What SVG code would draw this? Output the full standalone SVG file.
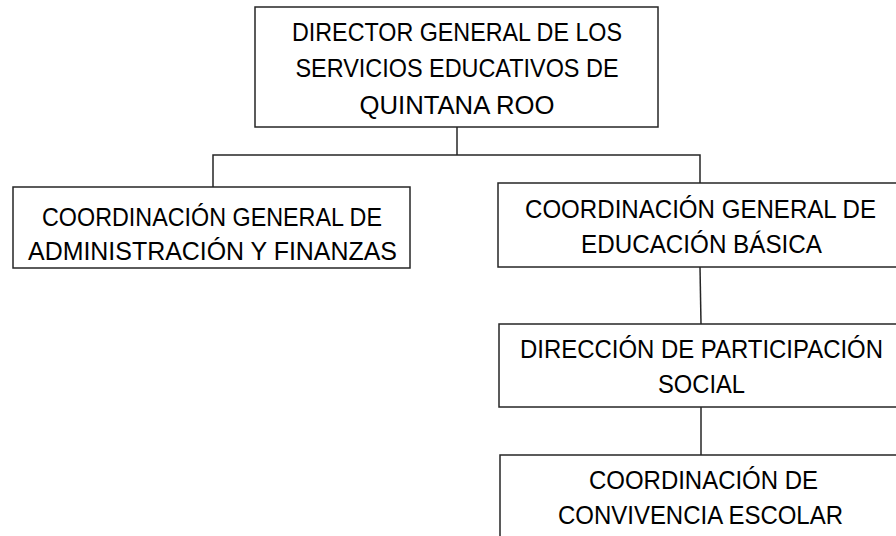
<svg xmlns="http://www.w3.org/2000/svg" width="896" height="536" viewBox="0 0 896 536">
<style>
.box{fill:#fff;stroke:#262626;stroke-width:1.5}
.ln{fill:none;stroke:#262626;stroke-width:1.5}
text{font-family:"Liberation Sans","Open Sans",sans-serif;font-size:25px;fill:#000;text-anchor:middle}
</style>
<rect width="896" height="536" fill="#fff"/>
<g id="connectors">
<polyline class="ln" points="457,127 457,155"/>
<polyline class="ln" points="213,187 213,155 700,155 700,183"/>
<line class="ln" x1="700" y1="267" x2="701" y2="324"/>
<line class="ln" x1="701" y1="407" x2="701" y2="455"/>
</g>
<g id="director">
<rect class="box" x="255" y="7" width="403" height="120"/>
<text x="457" y="40.5" textLength="330" lengthAdjust="spacingAndGlyphs">DIRECTOR GENERAL DE LOS</text>
<text x="457" y="77" textLength="323" lengthAdjust="spacingAndGlyphs">SERVICIOS EDUCATIVOS DE</text>
<text x="457" y="114" textLength="195" lengthAdjust="spacingAndGlyphs">QUINTANA ROO</text>
</g>
<g id="admin">
<rect class="box" x="13" y="187" width="397" height="81"/>
<text x="212" y="225.5" textLength="340" lengthAdjust="spacingAndGlyphs">COORDINACIÓN GENERAL DE</text>
<text x="212.5" y="259.5" textLength="369" lengthAdjust="spacingAndGlyphs">ADMINISTRACIÓN Y FINANZAS</text>
</g>
<g id="basica">
<rect class="box" x="498" y="183" width="410" height="84"/>
<text x="700.5" y="217.5" textLength="351" lengthAdjust="spacingAndGlyphs">COORDINACIÓN GENERAL DE</text>
<text x="701.5" y="252.5" textLength="241" lengthAdjust="spacingAndGlyphs">EDUCACIÓN BÁSICA</text>
</g>
<g id="participacion">
<rect class="box" x="499" y="324" width="410" height="83"/>
<text x="701.5" y="357.5" textLength="363" lengthAdjust="spacingAndGlyphs">DIRECCIÓN DE PARTICIPACIÓN</text>
<text x="701.5" y="392.5" textLength="87" lengthAdjust="spacingAndGlyphs">SOCIAL</text>
</g>
<g id="convivencia">
<rect class="box" x="500" y="455" width="410" height="100"/>
<text x="703.5" y="488.5" textLength="229" lengthAdjust="spacingAndGlyphs">COORDINACIÓN DE</text>
<text x="700.5" y="524" textLength="285" lengthAdjust="spacingAndGlyphs">CONVIVENCIA ESCOLAR</text>
</g>
</svg>
